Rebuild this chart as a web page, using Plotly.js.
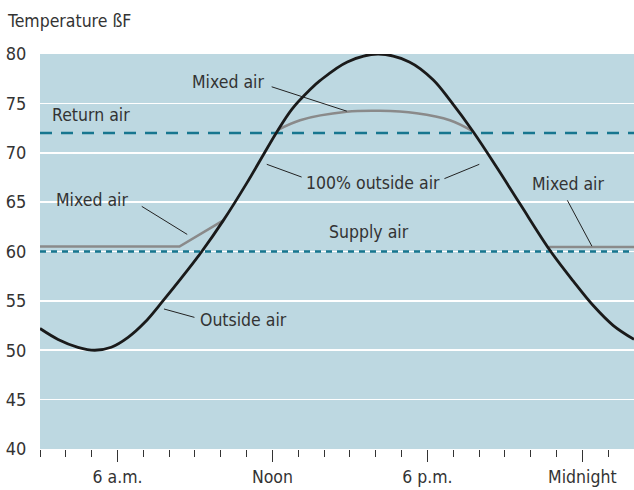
<!DOCTYPE html>
<html>
<head>
<meta charset="utf-8">
<script src="https://cdn.plot.ly/plotly-3.0.1.min.js"></script>
<style>html,body{margin:0;padding:0;background:#fff;}#chart{width:634px;height:490px;}</style>
</head>
<body>
<div id="chart"></div>
<script>
// Hours of day (3 = 3 a.m., 24 = midnight, 26 = 2 a.m. next day)
const outsideHours = [3, 3.7, 4.47, 5.12, 5.76, 6.41, 7.05, 7.76, 8.47, 9.25, 10.1, 11.0, 11.65, 12.17, 12.75, 13.46, 13.84, 14.9, 16.09, 17.3, 18.22, 18.88, 19.78, 20.69, 21.59, 22.75, 23.65, 24.43, 25.2, 26];
const outsideTemps = [52.2, 51.1, 50.3, 50.0, 50.3, 51.3, 52.8, 55.0, 57.3, 59.95, 63.15, 66.9, 69.8, 72.1, 74.4, 76.4, 77.3, 79.2, 80.0, 79.2, 77.4, 75.3, 72.1, 68.5, 64.8, 60.1, 57.0, 54.5, 52.5, 51.1];

const mixedMorningHours = [3, 8.4, 10.1];
const mixedMorningTemps = [60.5, 60.5, 63.15];
const mixedMiddayHours = [12.2, 13.07, 14.87, 16.16, 17.58, 18.87, 19.75];
const mixedMiddayTemps = [72.3, 73.3, 74.15, 74.25, 74.0, 73.3, 72.2];
const mixedNightHours = [22.7, 26];
const mixedNightTemps = [60.45, 60.45];

const returnAirTemp = 72;
const supplyAirTemp = 60;
const hourSpan = [3, 26];

const tickHours = [6, 12, 18, 24];
const tickLabels = ["6 a.m.", "Noon", "6 p.m.", "Midnight"];

const FONT = "'Liberation Sans Narrow', 'DejaVu Sans Condensed', 'Arial Narrow', sans-serif";
const FS = 17.5;
const TXT = "#333333";
const TEAL = "#17768f";

const traces = [
  {x: hourSpan, y: [returnAirTemp, returnAirTemp], mode: "lines", line: {color: TEAL, width: 2.6, dash: "12px,9px"}, hoverinfo: "skip"},
  {x: hourSpan, y: [supplyAirTemp, supplyAirTemp], mode: "lines", line: {color: TEAL, width: 2.6, dash: "6px,5px"}, hoverinfo: "skip"},
  {x: mixedMorningHours, y: mixedMorningTemps, mode: "lines", line: {color: "#8a8a8a", width: 2.6}},
  {x: mixedMiddayHours, y: mixedMiddayTemps, mode: "lines", line: {color: "#8a8a8a", width: 2.6, shape: "spline", smoothing: 1}},
  {x: mixedNightHours, y: mixedNightTemps, mode: "lines", line: {color: "#8a8a8a", width: 2.6}},
  {x: outsideHours, y: outsideTemps, mode: "lines", line: {color: "#1a1a1a", width: 2.8, shape: "spline", smoothing: 1}}
];

function lbl(text, x, y, anchor) {
  return {text: text, x: x, y: y, xref: "x", yref: "y", showarrow: false, xanchor: anchor || "center", yanchor: "middle", font: {family: FONT, size: FS, color: TXT}};
}
function lead(x0, y0, x1, y1) {
  return {type: "line", xref: "x", yref: "y", x0: x0, y0: y0, x1: x1, y1: y1, line: {color: "#222", width: 1}};
}

const layout = {
  width: 634, height: 490,
  margin: {l: 40, r: 0, t: 54, b: 41},
  paper_bgcolor: "#ffffff",
  plot_bgcolor: "#bdd8e1",
  showlegend: false,
  font: {family: FONT, size: FS, color: TXT},
  title: {text: "Temperature ßF", x: 8 / 634, xanchor: "left", xref: "container", y: 1 - 21 / 490, yanchor: "middle", yref: "container", font: {family: FONT, size: FS, color: TXT}},
  xaxis: {
    range: hourSpan, tickmode: "array", tickvals: tickHours, ticktext: tickLabels,
    ticks: "outside", ticklen: 12, tickwidth: 1, tickcolor: "#333",
    minor: {tick0: 3, dtick: 1, ticks: "outside", ticklen: 7, tickwidth: 1, tickcolor: "#333", showgrid: false},
    showgrid: false, zeroline: false, showline: false,
    tickfont: {family: FONT, size: FS, color: TXT}
  },
  yaxis: {
    range: [40, 80], tickvals: [40, 45, 50, 55, 60, 65, 70, 75, 80],
    ticks: "outside", ticklen: 9, tickcolor: "rgba(0,0,0,0)",
    showgrid: true, gridcolor: "#ffffff", gridwidth: 1.6,
    zeroline: false, showline: false,
    tickfont: {family: FONT, size: FS + 0.5, color: TXT}
  },
  annotations: [
    lbl("Mixed air", 10.28, 77.16),
    lbl("Return air", 3.39, 73.8, "left"),
    lbl("100% outside air", 15.88, 66.9),
    lbl("Mixed air", 5.03, 65.18),
    lbl("Mixed air", 23.46, 66.8),
    lbl("Supply air", 15.74, 61.96),
    lbl("Outside air", 10.87, 53.07)
  ],
  shapes: [
    lead(11.97, 76.68, 14.88, 74.21),
    lead(11.78, 68.83, 13.13, 67.54),
    lead(18.66, 67.38, 20.01, 68.83),
    lead(6.94, 64.57, 8.70, 61.73),
    lead(23.42, 65.18, 24.37, 60.54),
    lead(7.80, 54.18, 8.98, 53.33)
  ]
};

Plotly.newPlot("chart", traces, layout, {staticPlot: true, displayModeBar: false});
</script>
</body>
</html>
